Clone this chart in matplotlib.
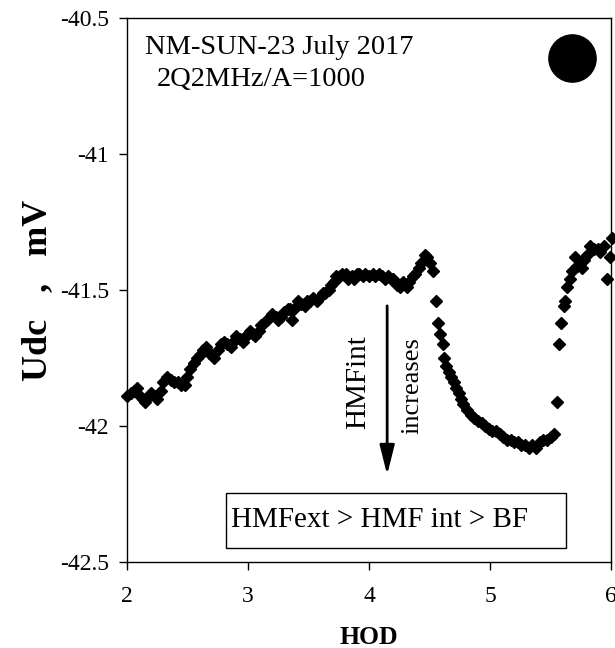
import matplotlib
matplotlib.use("Agg")
import matplotlib.pyplot as plt
from matplotlib.patches import Rectangle

plt.rcParams['font.family'] = ['Liberation Serif', 'DejaVu Serif']

# HOD (hours of day) and Udc (mV)
hod = [2.00, 2.03, 2.06, 2.08, 2.11, 2.13, 2.15, 2.18, 2.20, 2.23, 2.25, 2.28, 2.30, 2.33,
       2.36, 2.39, 2.42, 2.45, 2.48, 2.50, 2.52, 2.55, 2.58, 2.60, 2.63, 2.65, 2.68, 2.70,
       2.72, 2.75, 2.78, 2.80, 2.83, 2.86, 2.88, 2.90, 2.93, 2.96, 2.98, 3.00, 3.02, 3.04,
       3.06, 3.09, 3.11, 3.13, 3.16, 3.18, 3.20, 3.23, 3.25, 3.27, 3.30, 3.33, 3.35, 3.36,
       3.38, 3.41, 3.44, 3.47, 3.49, 3.51, 3.54, 3.57, 3.59, 3.62, 3.64, 3.67, 3.69, 3.71,
       3.73, 3.76, 3.78, 3.81, 3.83, 3.86, 3.88, 3.90, 3.92, 3.95, 3.97, 4.00, 4.03, 4.05,
       4.08, 4.11, 4.13, 4.16, 4.18, 4.20, 4.23, 4.26, 4.28, 4.31, 4.33, 4.36, 4.38, 4.41,
       4.43, 4.46, 4.48, 4.50, 4.53,
       4.55, 4.57, 4.59, 4.61, 4.62, 4.64, 4.66, 4.68, 4.70, 4.72, 4.74, 4.76, 4.78, 4.81,
       4.84, 4.87, 4.90, 4.93, 4.96, 4.99, 5.02, 5.05, 5.08, 5.11, 5.14, 5.17, 5.20, 5.23,
       5.26, 5.29, 5.32, 5.35, 5.38, 5.41, 5.44, 5.47, 5.50, 5.53,
       5.55, 5.57, 5.59, 5.61, 5.62, 5.64, 5.66, 5.68, 5.70, 5.72, 5.74, 5.76, 5.78, 5.80,
       5.83, 5.86, 5.89, 5.91, 5.94, 5.97, 5.99, 6.01]
udc = [-41.89, -41.88, -41.87, -41.86, -41.89, -41.90, -41.91, -41.89, -41.88, -41.89,
       -41.90, -41.87, -41.84, -41.82, -41.83, -41.84, -41.84, -41.85, -41.85, -41.82,
       -41.79, -41.77, -41.75, -41.74, -41.72, -41.71, -41.73, -41.74, -41.75, -41.72,
       -41.70, -41.69, -41.70, -41.71, -41.69, -41.67, -41.68, -41.69, -41.67, -41.66,
       -41.65, -41.66, -41.67, -41.65, -41.63, -41.62, -41.61, -41.60, -41.59, -41.60,
       -41.61, -41.60, -41.58, -41.57, -41.57, -41.61, -41.57, -41.54, -41.55, -41.56,
       -41.54, -41.54, -41.53, -41.54, -41.53, -41.51, -41.51, -41.50, -41.48, -41.47,
       -41.45, -41.45, -41.44, -41.44, -41.46, -41.45, -41.46, -41.44, -41.44, -41.45,
       -41.44, -41.45, -41.44, -41.45, -41.44, -41.45, -41.46, -41.45, -41.46, -41.46,
       -41.48, -41.49, -41.47, -41.49, -41.47, -41.45, -41.44, -41.42, -41.40, -41.37,
       -41.38, -41.40, -41.43,
       -41.54, -41.62, -41.66, -41.70, -41.75, -41.78, -41.80, -41.82, -41.84, -41.86,
       -41.88, -41.90, -41.92, -41.94, -41.96, -41.97, -41.98, -41.99, -42.00, -42.01,
       -42.02, -42.02, -42.03, -42.04, -42.05, -42.05, -42.06, -42.06, -42.07, -42.07,
       -42.08, -42.07, -42.08, -42.06, -42.05, -42.05, -42.04, -42.03,
       -41.91, -41.70, -41.62, -41.56, -41.54, -41.49, -41.46, -41.43, -41.38, -41.41,
       -41.40, -41.42, -41.39, -41.37, -41.34, -41.35, -41.35, -41.36, -41.34, -41.46,
       -41.38, -41.31]

xticks = [2, 3, 4, 5, 6]
yticks = [-42.5, -42, -41.5, -41, -40.5]
yticklabels = ["-42.5", "-42", "-41.5", "-41", "-40.5"]

fig = plt.figure(figsize=(6.15, 6.48), dpi=100)
ax = fig.add_axes([0.2065, 0.1327, 0.787, 0.8395])

ax.plot(hod, udc, linestyle="", marker="D", markersize=5.8, color="black", clip_on=False)

ax.set_xlim(2, 6)
ax.set_ylim(-42.5, -40.5)
ax.set_xticks(xticks)
ax.set_xticklabels([str(t) for t in xticks])
ax.set_yticks(yticks)
ax.set_yticklabels(yticklabels)
ax.tick_params(axis="both", direction="out", length=6, width=1, labelsize=17)
ax.tick_params(axis="x", pad=11)
ax.tick_params(axis="y", pad=7)
for s in ax.spines.values():
    s.set_linewidth(1)
    s.set_color("black")

ax.set_xlabel("HOD", fontsize=18.5, fontweight="bold", labelpad=14)
ax.set_ylabel("Udc   ,   mV", fontsize=26, fontweight="bold", labelpad=4)

ax.text(2.15, -40.61, "NM-SUN-23 July 2017", fontsize=20.5, va="center", ha="left")
ax.text(2.25, -40.725, "2Q2MHz/A=1000", fontsize=20.5, va="center", ha="left")
ax.plot([5.68], [-40.647], marker="o", markersize=34, color="black")

# arrow: HMFint increases
ax.annotate("", xy=(4.15, -42.19), xytext=(4.15, -41.548),
            arrowprops=dict(arrowstyle="-|>,head_width=0.25,head_length=1.0",
                            color="black", lw=2, mutation_scale=18))
ax.text(3.91, -41.84, "HMFint", rotation=90, fontsize=21, ha="center", va="center")
ax.text(4.36, -41.85, "increases", rotation=90, fontsize=19, ha="center", va="center")

ax.add_patch(Rectangle((2.82, -42.449), 2.81, 0.203, fill=False, edgecolor="black", lw=1))
ax.text(2.86, -42.347, "HMFext > HMF int > BF", fontsize=21, va="center", ha="left")

fig.savefig("out.png", dpi=100)
